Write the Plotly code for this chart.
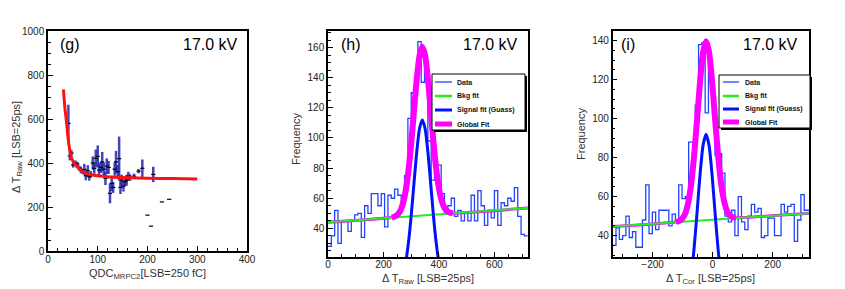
import numpy as np
import plotly.graph_objects as go

W, H = 845, 289
FONT = "Liberation Sans, Arial, Helvetica, sans-serif"

# ---------------- Panel (g) data ----------------
g_qdc = [41, 44, 47, 50.6, 55, 59, 63, 66, 70, 73, 76, 80, 83, 86, 90, 93, 96, 100,
         102.5, 106, 109, 112, 115.5, 118, 121.7, 124.6, 128, 131, 134, 136.7, 140,
         143, 145.6, 148, 151.7, 155, 158, 161.5, 165, 173, 182, 189.6, 211.6,
         200, 207, 229, 243.6]
g_dt = [580, 432, 445, 391, 400, 395, 376, 368, 361, 371, 342, 365, 338, 348, 400, 376,
        421, 430, 368, 380, 405, 372, 330, 386, 380, 262, 307, 289, 372, 405, 361,
        420, 289, 322, 295, 315, 322, 340, 334, 340, 363, 376, 348,
        163, 113, 223, 235]
g_err = [85, 20, 15, 12, 12, 10, 12, 15, 12, 25, 20, 25, 18, 15, 30, 25,
         40, 50, 30, 25, 45, 30, 30, 35, 30, 45, 35, 25, 30, 50, 30,
         100, 30, 25, 25, 20, 25, 20, 15, 12, 10, 40, 35,
         0, 0, 0, 0]
g_fit_x = [31, 34, 37.5, 40, 44, 47, 51, 56, 62, 71, 80, 95, 118, 150, 200, 250, 300]
g_fit_y = [735, 650, 580, 520, 455, 425, 405, 390, 375, 358, 350, 343, 338, 334, 331, 329, 327]

# ---------------- Panel (h) data ----------------
h_bin_start, h_bin_width = 0, 12
h_counts = [28, 35, 52, 30, 45, 45, 38, 45, 49, 50, 34, 55, 50, 63, 63, 55, 63, 41, 62, 60,
            66, 62, 58, 75, 113, 130, 137, 164, 137, 145, 98, 72, 78, 82, 63, 50, 55, 60, 48, 52,
            45, 50, 45, 62, 45, 65, 55, 42, 52, 47, 65, 42, 57, 55, 60, 58, 67, 48, 36, 35]
h_bkg_x = [0, 722]
h_bkg_y = [44.0, 53.5]
h_sig_x = [270, 280, 290, 300, 310, 320, 330, 340, 350, 360, 370, 380, 390, 400, 410]
h_sig_y = [8.8, 17.2, 30.5, 48.7, 70.1, 91, 106.3, 112, 106.3, 91, 70.1, 48.7, 30.5, 17.2, 8.8]
h_glob_x = [0, 230, 240, 250, 260, 270, 280, 290, 300, 310, 320, 330, 340, 350, 360, 370,
            380, 390, 400, 410, 420, 430, 440, 450, 722]
h_glob_y = [44.0, 47.2, 47.8, 49.0, 51.4, 56.4, 64.9, 78.3, 96.7, 118.2, 139.2, 154.7, 160.5,
            154.9, 139.8, 119.0, 97.7, 79.6, 66.5, 58.2, 53.5, 51.4, 50.4, 50.1, 53.5]

# ---------------- Panel (i) data ----------------
i_bin_start, i_bin_width = -333, 11
i_counts = [35, 44, 38, 40, 50, 39, 42, 34, 34, 48, 66, 41, 52, 43, 53, 53, 53, 45, 51, 48,
            66, 59, 60, 88, 88, 107, 138, 139, 103, 128, 110, 81, 82, 72, 50, 47, 53, 40, 60, 47,
            43, 50, 56, 52, 54, 39, 40, 49, 49, 40, 40, 56, 52, 55, 56, 37, 48, 61, 53, 53]
i_bkg_x = [-333, 322]
i_bkg_y = [44.6, 51.5]
i_sig_x = [-92, -82, -72, -62, -52, -42, -32, -22, -12, -2, 8, 18, 28, 38, 48]
i_sig_y = [4.0, 9.3, 18.7, 33.2, 51.8, 71.3, 86.3, 92, 86.3, 71.3, 51.8, 33.2, 18.7, 9.3, 4.0]
i_glob_x = [-333, -122, -112, -102, -92, -82, -72, -62, -52, -42, -32, -22, -12, -2, 8, 18,
            28, 38, 48, 58, 68, 78, 322]
i_glob_y = [44.6, 47.0, 47.4, 48.6, 51.1, 56.5, 66.0, 80.6, 99.3, 118.9, 134.0, 139.8, 134.2,
            119.3, 100.0, 81.5, 67.1, 57.8, 52.6, 50.3, 49.3, 49.1, 51.5]

legend_labels = ["Data", "Bkg fit", "Signal fit (Guass)", "Global Fit"]
panel_tags = ["(g)", "(h)", "(i)"]
hv_label = "17.0 kV"
x_titles = ["QDC<sub>MRPC2</sub>[LSB=250 fC]", "Δ T<sub>Raw</sub> [LSB=25ps]", "Δ T<sub>Cor</sub> [LSB=25ps]"]
y_titles = ["Δ T<sub>Raw</sub> [LSB=25ps]", "Frequency", "Frequency"]

# colours
C_HIST = "#2244ff"
C_BKG = "#22ee22"
C_SIG = "#0011ff"
C_GLOB = "#ff00ff"
C_RED = "#ff1111"


def hist_xy(start, width, counts):
    edges = start + width * np.arange(len(counts) + 1)
    ys = list(counts) + [counts[-1]]
    return edges, ys


def px(x):
    return x / W


def py(y):
    return 1 - y / H


fig = go.Figure()

# ---- (g) ----
fig.add_trace(go.Scatter(
    x=g_qdc, y=g_dt, mode="markers", xaxis="x", yaxis="y",
    marker=dict(symbol="line-ew-open", size=3, color="black", line=dict(color="black", width=1.2)),
    error_y=dict(type="data", array=g_err, visible=True, color="rgba(35,35,170,0.85)",
                 thickness=2.5, width=0),
    showlegend=False))
fig.add_trace(go.Scatter(x=g_fit_x, y=g_fit_y, mode="lines", xaxis="x", yaxis="y",
                         line=dict(color=C_RED, width=3, shape="spline", smoothing=0.8),
                         showlegend=False))

# ---- (h) ----
hx, hy = hist_xy(h_bin_start, h_bin_width, h_counts)
fig.add_trace(go.Scatter(x=hx, y=hy, mode="lines", xaxis="x2", yaxis="y2",
                         line=dict(color=C_HIST, width=1.3, shape="hv"), showlegend=False))
fig.add_trace(go.Scatter(x=h_glob_x, y=h_glob_y, mode="lines", xaxis="x2", yaxis="y2",
                         line=dict(color=C_GLOB, width=3, shape="spline", smoothing=0.6), showlegend=False))
fig.add_trace(go.Scatter(x=h_bkg_x, y=h_bkg_y, mode="lines", xaxis="x2", yaxis="y2",
                         line=dict(color=C_BKG, width=2), showlegend=False))
fig.add_trace(go.Scatter(x=h_glob_x[1:-1], y=h_glob_y[1:-1], mode="lines", xaxis="x2", yaxis="y2",
                         line=dict(color=C_GLOB, width=6, shape="spline", smoothing=0.6), showlegend=False))
fig.add_trace(go.Scatter(x=h_sig_x, y=h_sig_y, mode="lines", xaxis="x2", yaxis="y2",
                         line=dict(color=C_SIG, width=3, shape="spline", smoothing=0.6), showlegend=False))

# ---- (i) ----
ix, iy = hist_xy(i_bin_start, i_bin_width, i_counts)
fig.add_trace(go.Scatter(x=ix, y=iy, mode="lines", xaxis="x3", yaxis="y3",
                         line=dict(color=C_HIST, width=1.3, shape="hv"), showlegend=False))
fig.add_trace(go.Scatter(x=i_glob_x, y=i_glob_y, mode="lines", xaxis="x3", yaxis="y3",
                         line=dict(color=C_GLOB, width=3, shape="spline", smoothing=0.6), showlegend=False))
fig.add_trace(go.Scatter(x=i_bkg_x, y=i_bkg_y, mode="lines", xaxis="x3", yaxis="y3",
                         line=dict(color=C_BKG, width=2), showlegend=False))
fig.add_trace(go.Scatter(x=i_glob_x[1:-1], y=i_glob_y[1:-1], mode="lines", xaxis="x3", yaxis="y3",
                         line=dict(color=C_GLOB, width=6, shape="spline", smoothing=0.6), showlegend=False))
fig.add_trace(go.Scatter(x=i_sig_x, y=i_sig_y, mode="lines", xaxis="x3", yaxis="y3",
                         line=dict(color=C_SIG, width=3, shape="spline", smoothing=0.6), showlegend=False))


def axis(domain, rng, dtick, minor, anchor, lblshift):
    return dict(domain=domain, range=rng, dtick=dtick, anchor=anchor,
                showline=True, mirror=True, linecolor="black", linewidth=1.5,
                ticks="inside", ticklen=5, tickwidth=1, tickcolor="black",
                minor=dict(dtick=minor, ticks="inside", ticklen=3, tickcolor="black", tickwidth=1),
                showgrid=False, zeroline=False, automargin=False, ticklabelstandoff=lblshift,
                tickfont=dict(family=FONT, size=10, color="#222"))


yd_g = [py(251), py(31)]
yd_hi = [py(257), py(31)]
fig.update_layout(
    width=W, height=H, margin=dict(l=0, r=0, t=0, b=0),
    paper_bgcolor="white", plot_bgcolor="white", showlegend=False,
    xaxis=axis([px(48), px(247)], [0, 400], 100, 20, "y", -2),
    yaxis=axis(yd_g, [0, 1000], 200, 50, "x", 0),
    xaxis2=axis([px(328), px(528)], [0, 721], 200, 50, "y2", -3),
    yaxis2=axis(yd_hi, [21, 171], 20, 5, "x2", 0),
    xaxis3=axis([px(612.7), px(809.3)], [-333, 322], 200, 50, "y3", -3),
    yaxis3=axis(yd_hi, [29, 145], 20, 5, "x3", 0),
)

ann = []
# axis titles
TF = dict(family=FONT, size=11, color="#333")
for t, (cx, cy) in zip(x_titles, [(147.5, 274), (427.5, 279), (710.5, 279)]):
    ann.append(dict(x=px(cx), y=py(cy), xref="paper", yref="paper", text=t, showarrow=False,
                    xanchor="center", yanchor="middle", font=TF))
for t, (cx, cy) in zip(y_titles, [(17, 147), (296, 139), (581, 134)]):
    ann.append(dict(x=px(cx), y=py(cy), xref="paper", yref="paper", text=t, showarrow=False,
                    xanchor="center", yanchor="middle", textangle=-90, font=TF))

# panel tags and voltage labels
for tag, (tx, vx) in zip(panel_tags, [(58, 240), (339, 520), (619, 800)]):
    ann.append(dict(x=px(tx), y=py(45), xref="paper", yref="paper", text=tag, showarrow=False,
                    xanchor="left", yanchor="middle", font=dict(family=FONT, size=16, color="black")))
    ann.append(dict(x=px(vx), y=py(45), xref="paper", yref="paper", text=hv_label, showarrow=False,
                    xanchor="right", yanchor="middle", font=dict(family=FONT, size=16, color="black")))

shapes = []
legend_styles = [(C_HIST, 1.3), (C_BKG, 2.5), (C_SIG, 3), (C_GLOB, 5)]
for (bx0, by0, bx1, by1, lx0, lx1, tx, rows) in [
        (432, 74, 525, 130, 435, 452, 455, [82, 96, 110, 124]),
        (719, 75, 810, 128, 723, 739, 743, [82, 96, 109, 122])]:
    shapes.append(dict(type="rect", xref="paper", yref="paper",
                       x0=px(bx0 + 2), x1=px(bx1 + 2), y0=py(by1 + 2), y1=py(by0 + 2),
                       fillcolor="black", line=dict(width=0), layer="above"))
    shapes.append(dict(type="rect", xref="paper", yref="paper",
                       x0=px(bx0), x1=px(bx1), y0=py(by1), y1=py(by0),
                       fillcolor="white", line=dict(color="black", width=1), layer="above"))
    for lab, (col, wd), ry in zip(legend_labels, legend_styles, rows):
        shapes.append(dict(type="line", xref="paper", yref="paper",
                           x0=px(lx0), x1=px(lx1), y0=py(ry), y1=py(ry),
                           line=dict(color=col, width=wd), layer="above"))
        ann.append(dict(x=px(tx), y=py(ry), xref="paper", yref="paper", text="<b>" + lab + "</b>",
                        showarrow=False, xanchor="left", yanchor="middle",
                        font=dict(family=FONT, size=7, color="#111")))

fig.update_layout(annotations=ann, shapes=shapes)
fig.write_html("out.html", config={"displayModeBar": False},
               post_script="document.body.style.margin='0px';document.body.style.padding='0px';")
